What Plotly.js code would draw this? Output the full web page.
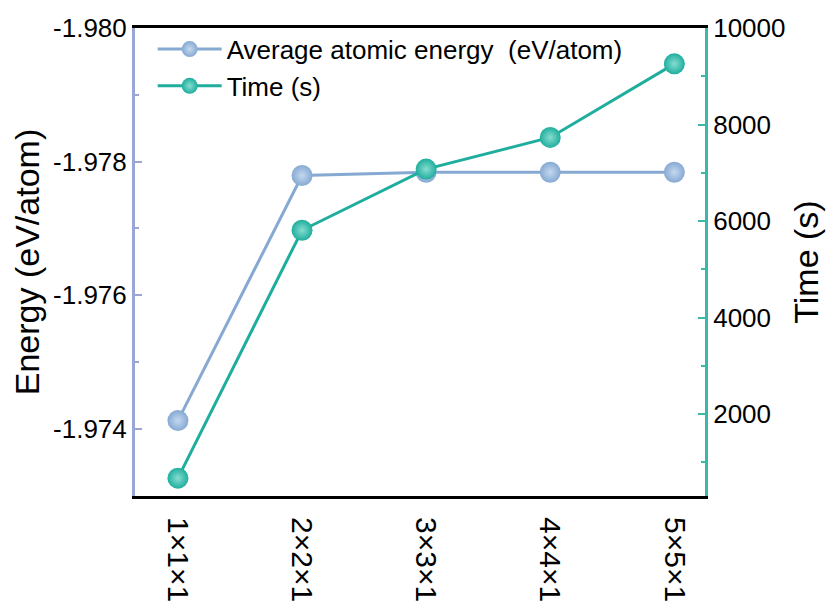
<!DOCTYPE html>
<html>
<head>
<meta charset="utf-8">
<script src="https://cdn.plot.ly/plotly-3.0.1.min.js"></script>
<style>html,body{margin:0;padding:0;background:#fff;}#chart{width:834px;height:613px;}</style>
</head>
<body>
<div id="chart"></div>
<script>
const categories = ["1×1×1", "2×2×1", "3×3×1", "4×4×1", "5×5×1"];
const energy = [-1.97412, -1.97779, -1.97784, -1.97784, -1.97784];
const timeS = [675, 5810, 7077, 7733, 9257];
const energyTicks = [-1.980, -1.978, -1.976, -1.974];
const energyTickText = ["-1.980", "-1.978", "-1.976", "-1.974"];
const timeTicks = [2000, 4000, 6000, 8000, 10000];
const timeTickText = ["2000", "4000", "6000", "8000", "10000"];

const blue = "#86a9d2";
const blueLight = "#c4d8f0";
const teal = "#1fae9d";
const tealLight = "#86ddd1";
const axisBlue = "#9aa6d6";
const axisTeal = "#3cb8ab";
const FONT = "Arial, 'Liberation Sans', sans-serif";

const traces = [
  {
    x: categories, y: energy, name: "Average atomic energy  (eV/atom)",
    type: "scatter", mode: "lines+markers", yaxis: "y",
    line: {color: blue, width: 3},
    marker: {size: 21, color: blue, gradient: {type: "radial", color: blueLight}, line: {width: 0}}
  },
  {
    x: categories, y: timeS, name: "Time (s)",
    type: "scatter", mode: "lines+markers", yaxis: "y2",
    line: {color: teal, width: 3},
    marker: {size: 21, color: teal, gradient: {type: "radial", color: tealLight}, line: {width: 0}}
  }
];

const layout = {
  width: 834, height: 613,
  margin: {l: 135, r: 129, t: 28, b: 117},
  paper_bgcolor: "#fff", plot_bgcolor: "#fff",
  font: {family: FONT, size: 24, color: "#000"},
  showlegend: true,
  legend: {x: 0.031, y: 1.005, xanchor: "left", yanchor: "top", bgcolor: "rgba(0,0,0,0)",
           font: {size: 26, family: FONT}, itemwidth: 64, tracegroupgap: 0},
  xaxis: {
    type: "category", range: [-0.346, 4.247],
    showline: true, linecolor: "#000", linewidth: 3, mirror: true,
    showgrid: false, zeroline: false, ticks: "", tickangle: 90,
    ticklabelstandoff: 12,
    tickfont: {size: 30, family: FONT}
  },
  yaxis: {
    range: [-1.97299, -1.980],
    tickvals: energyTicks, ticktext: energyTickText,
    showline: true, linecolor: axisBlue, linewidth: 3,
    showgrid: false, zeroline: false,
    ticks: "inside", ticklen: 7, tickwidth: 2, tickcolor: axisBlue,
    minor: {ticks: "inside", ticklen: 4, tickwidth: 2, tickcolor: axisBlue, dtick: 0.001, showgrid: false},
    tickfont: {size: 26, family: FONT},
    title: {text: "Energy (eV/atom)", font: {size: 34, family: FONT}, standoff: 4}
  },
  yaxis2: {
    overlaying: "y", side: "right", anchor: "x",
    range: [305, 10000],
    tickvals: timeTicks, ticktext: timeTickText,
    showline: true, linecolor: axisTeal, linewidth: 3,
    showgrid: false, zeroline: false,
    ticks: "inside", ticklen: 7, tickwidth: 2, tickcolor: axisTeal,
    minor: {ticks: "inside", ticklen: 4, tickwidth: 2, tickcolor: axisTeal, dtick: 1000, showgrid: false},
    tickfont: {size: 26, family: FONT},
    title: {text: "Time (s)", font: {size: 34, family: FONT}, standoff: 10}
  }
};

Plotly.newPlot("chart", traces, layout, {displayModeBar: false, staticPlot: true});
</script>
</body>
</html>
